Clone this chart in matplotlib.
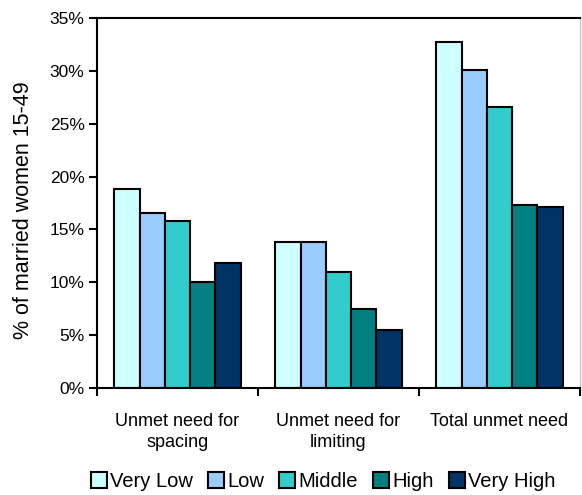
import matplotlib
matplotlib.use("Agg")
import matplotlib.pyplot as plt
import numpy as np

plt.rcParams['font.family'] = ['Liberation Sans', 'DejaVu Sans']

# Unmet need for family planning by wealth quintile
categories = ["Unmet need for\nspacing", "Unmet need for\nlimiting", "Total unmet need"]
quintiles = ["Very Low", "Low", "Middle", "High", "Very High"]
very_low = [18.8, 13.8, 32.7]
low = [16.6, 13.8, 30.1]
middle = [15.8, 11.0, 26.6]
high = [10.0, 7.5, 17.3]
very_high = [11.8, 5.5, 17.1]
yticks = [0, 5, 10, 15, 20, 25, 30, 35]

series = [very_low, low, middle, high, very_high]
colors = ['#CCFFFF', '#99CCFF', '#33CCCC', '#008080', '#003366']

fig = plt.figure(figsize=(5.82, 4.95), dpi=100)
ax = fig.add_axes([0.1667, 0.2162, 0.8299, 0.7474])

x = np.arange(len(categories))
width = 0.157
for i, (vals, col, name) in enumerate(zip(series, colors, quintiles)):
    offs = (i - 2) * width
    ax.bar(x + offs, vals, width, color=col, edgecolor='black', linewidth=1.5, label=name)

ax.set_xlim(-0.5, 2.5)
ax.set_ylim(0, 35)
ax.set_yticks(yticks)
ax.set_yticklabels([f"{t}%" for t in yticks])
ax.set_ylabel("% of married women 15-49", fontsize=15.5)
ax.yaxis.set_label_coords(-0.13, 0.48)

# category boundaries carry the ticks, labels sit between them
ax.set_xticks([-0.5, 0.5, 1.5, 2.5])
ax.set_xticklabels([])
ax.set_xticks(x, minor=True)
ax.set_xticklabels(categories, minor=True, fontsize=13, linespacing=1.3)
ax.tick_params(axis='x', which='minor', length=0, pad=18)
ax.tick_params(axis='x', which='major', length=6, width=1.5, direction='out')
ax.tick_params(axis='y', length=6, width=1.5, direction='out', labelsize=12.5, pad=3)

for side in ['left', 'bottom', 'top']:
    ax.spines[side].set_linewidth(1.5)
    ax.spines[side].set_color('black')
ax.spines['right'].set_color('#C8C8C8')
ax.spines['right'].set_linewidth(1.0)

fig.legend(loc='lower center', bbox_to_anchor=(0.555, -0.008), ncol=5, frameon=False,
           fontsize=14.5, handlelength=0.8, handleheight=0.8, handletextpad=0.15,
           columnspacing=0.75, borderaxespad=0.0)

fig.savefig("out.png", dpi=100)
